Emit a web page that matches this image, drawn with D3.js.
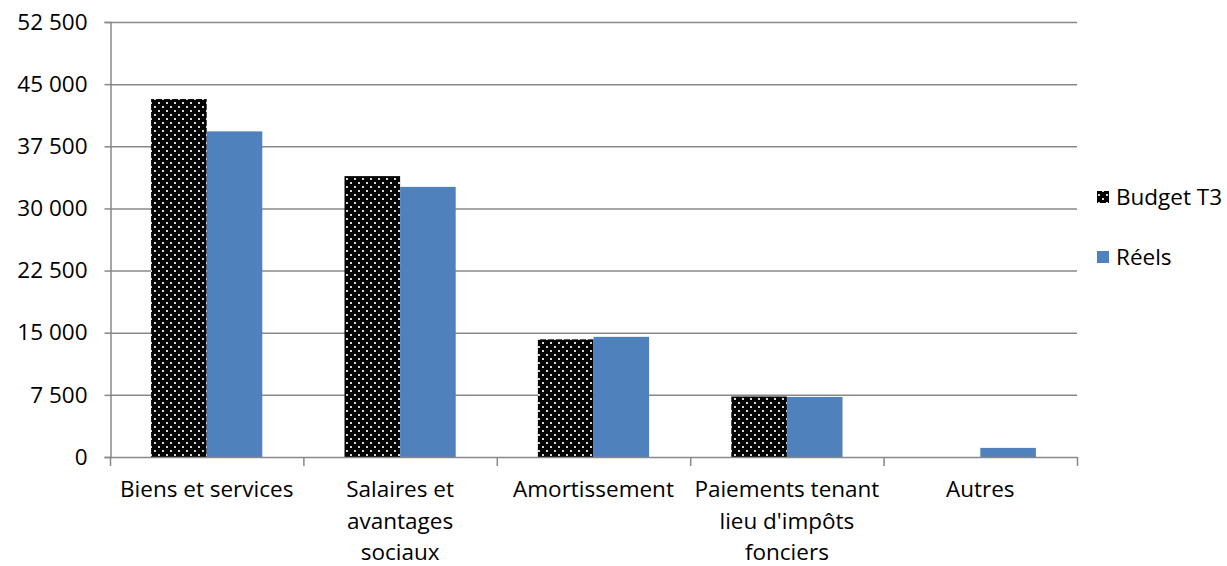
<!DOCTYPE html>
<html><head><meta charset="utf-8">
<script src="https://cdn.jsdelivr.net/npm/d3@7"></script>
<style>body{margin:0;background:#fff}svg{display:block}text{font-family:"Open Sans",sans-serif;fill:#000}</style>
</head><body>
<svg id="c" width="1227" height="566"></svg>
<script>
const categories = [["Biens et services"],["Salaires et","avantages","sociaux"],["Amortissement"],["Paiements tenant","lieu d'impôts","fonciers"],["Autres"]];
const seriesNames = ["Budget T3","Réels"];
const budget = [43200, 33900, 14200, 7300, 0];
const reels = [39300, 32600, 14500, 7250, 1100];
const yTicks = [0,7500,15000,22500,30000,37500,45000,52500];

const FS = "22.5px";
const svg = d3.select("#c");
const L=110,R=1077,T=22,B=457;
const defs = svg.append("defs");
const pat = defs.append("pattern").attr("id","dots").attr("patternUnits","userSpaceOnUse").attr("width",8).attr("height",8);
pat.append("rect").attr("width",8).attr("height",8).attr("fill","#000");
pat.append("rect").attr("x",2).attr("y",2).attr("width",2).attr("height",2).attr("fill","#d8d8d8");
pat.append("rect").attr("x",6).attr("y",6).attr("width",2).attr("height",2).attr("fill","#d8d8d8");

const idx = d3.range(categories.length);
const x = d3.scaleBand().domain(idx).range([L,R]).paddingInner(0.425).paddingOuter(0.2125);
const x1 = d3.scaleBand().domain([0,1]).range([0,x.bandwidth()]);
const y = d3.scaleLinear().domain([0,52500]).range([B,T]);
const fmt = v => d3.format(",")(v).replace(/,/g," ");

// gridlines
svg.append("g").selectAll("line").data(yTicks.filter(d=>d>0)).join("line")
  .attr("x1",L).attr("x2",R).attr("y1",d=>y(d)+0.5).attr("y2",d=>y(d)+0.5)
  .attr("stroke","#888").attr("stroke-width",1.5);

// bars
const colors = ["url(#dots)","#4f81bd"];
[budget,reels].forEach((vals,s)=>{
  svg.append("g").selectAll("rect").data(idx.filter(i=>vals[i]>0)).join("rect")
    .attr("x",i=>x(i)+x1(s)).attr("width",x1.bandwidth())
    .attr("y",i=>y(vals[i])).attr("height",i=>B-y(vals[i]))
    .attr("fill",colors[s]);
});

// y axis
const ya = svg.append("g").attr("transform",`translate(${L+0.5},0)`)
  .call(d3.axisLeft(y).tickValues(yTicks).tickFormat(fmt).tickSize(6).tickPadding(17));
ya.select(".domain").attr("stroke","#888").attr("stroke-width",1.5);
ya.selectAll(".tick line").attr("stroke","#888").attr("stroke-width",1.5);
ya.selectAll("text").style("font-size",FS).style("font-family","'Open Sans',sans-serif").attr("fill","#000");

// x axis
svg.append("line").attr("x1",L).attr("x2",R).attr("y1",B+0.5).attr("y2",B+0.5).attr("stroke","#888").attr("stroke-width",1.5);
const bounds = d3.range(categories.length+1).map(i=>L+(R-L)*i/categories.length);
svg.append("g").selectAll("line").data(bounds).join("line")
  .attr("x1",d=>d+0.5).attr("x2",d=>d+0.5).attr("y1",B).attr("y2",B+9)
  .attr("stroke","#888").attr("stroke-width",1.5);
const xl = svg.append("g").selectAll("text").data(idx).join("text")
  .attr("x",i=>x(i)+x.bandwidth()/2).attr("y",497).attr("text-anchor","middle").style("font-size",FS);
xl.each(function(i){
  d3.select(this).selectAll("tspan").data(categories[i]).join("tspan")
    .attr("x",x(i)+x.bandwidth()/2).attr("dy",(d,k)=>k===0?0:31.5).text(d=>d);
});

// legend
const lg = svg.append("g");
seriesNames.forEach((n,s)=>{
  const cy = 197 + s*60;
  lg.append("rect").attr("x",1097).attr("y",cy-6).attr("width",12).attr("height",12).attr("fill",colors[s]);
  lg.append("text").attr("x",1116).attr("y",cy+8).style("font-size",FS).text(n);
});
</script>
</body></html>
